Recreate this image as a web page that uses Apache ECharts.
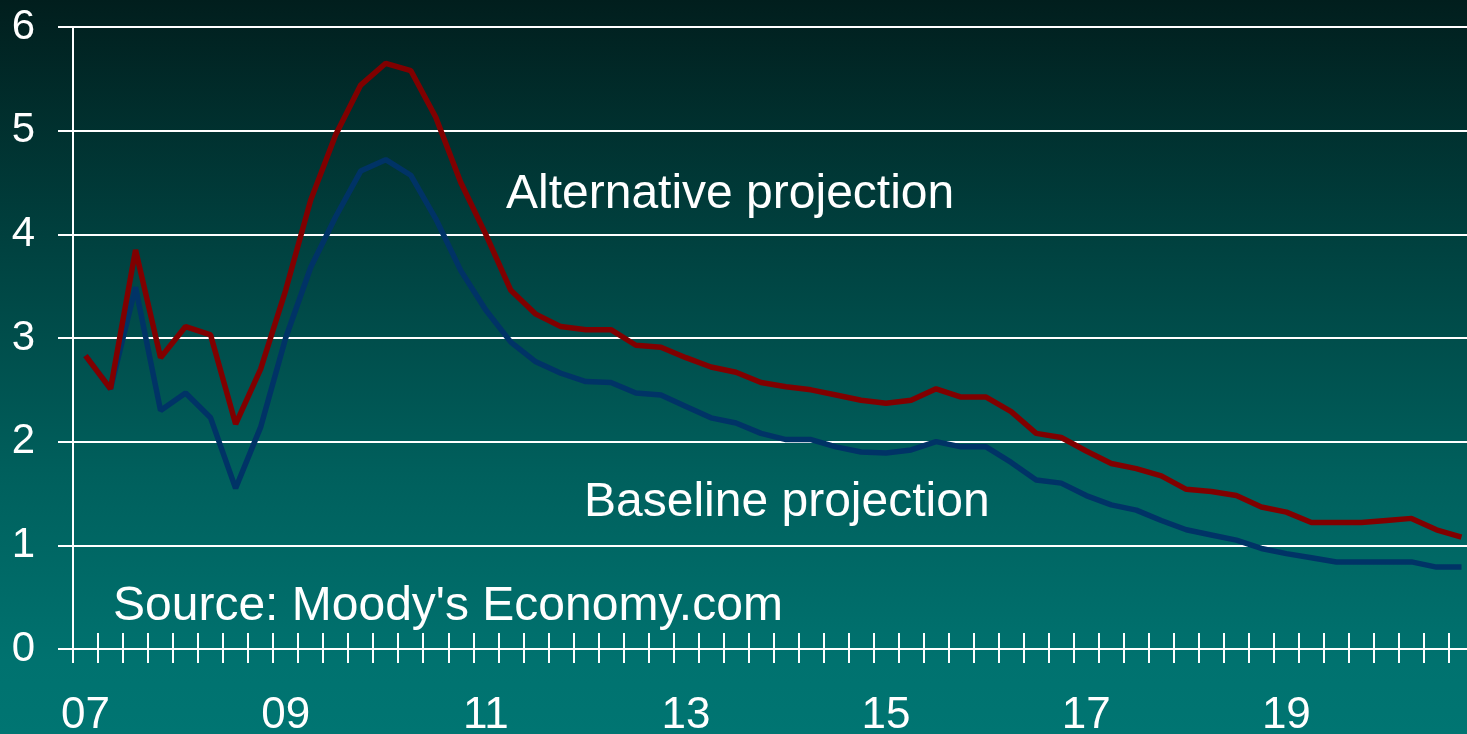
<!DOCTYPE html>
<html>
<head>
<meta charset="utf-8">
<title>Baseline vs alternative projection</title>
<script src="https://cdn.jsdelivr.net/npm/echarts@6/dist/echarts.min.js"></script>
<style>
    html, body {margin: 0; padding: 0; overflow: hidden;}
    #main {width: 1467px; height: 734px;}
</style>
</head>
<body>
<div id="main"></div>
<script>
// quarters 2007Q1 .. 2020Q4
var quarters = [
    '07Q1', '07Q2', '07Q3', '07Q4', '08Q1', '08Q2', '08Q3', '08Q4',
    '09Q1', '09Q2', '09Q3', '09Q4', '10Q1', '10Q2', '10Q3', '10Q4',
    '11Q1', '11Q2', '11Q3', '11Q4', '12Q1', '12Q2', '12Q3', '12Q4',
    '13Q1', '13Q2', '13Q3', '13Q4', '14Q1', '14Q2', '14Q3', '14Q4',
    '15Q1', '15Q2', '15Q3', '15Q4', '16Q1', '16Q2', '16Q3', '16Q4',
    '17Q1', '17Q2', '17Q3', '17Q4', '18Q1', '18Q2', '18Q3', '18Q4',
    '19Q1', '19Q2', '19Q3', '19Q4', '20Q1', '20Q2', '20Q3', '20Q4'
];

var baseline = [
    2.83, 2.51, 3.49, 2.30, 2.47, 2.23, 1.55, 2.14,
    3.00, 3.68, 4.17, 4.61, 4.72, 4.57, 4.15, 3.65,
    3.27, 2.96, 2.77, 2.66, 2.58, 2.57, 2.47, 2.45,
    2.34, 2.23, 2.18, 2.08, 2.02, 2.02, 1.95, 1.90,
    1.89, 1.92, 2.00, 1.95, 1.95, 1.80, 1.63, 1.60,
    1.48, 1.39, 1.34, 1.24, 1.15, 1.10, 1.05, 0.97,
    0.92, 0.88, 0.84, 0.84, 0.84, 0.84, 0.79, 0.79
];

var alternative = [
    2.83, 2.51, 3.85, 2.81, 3.11, 3.03, 2.17, 2.70,
    3.46, 4.33, 4.96, 5.44, 5.65, 5.58, 5.13, 4.50,
    4.00, 3.46, 3.23, 3.11, 3.08, 3.08, 2.93, 2.91,
    2.81, 2.72, 2.67, 2.57, 2.53, 2.50, 2.45, 2.40,
    2.37, 2.40, 2.51, 2.43, 2.43, 2.29, 2.08, 2.04,
    1.91, 1.79, 1.74, 1.67, 1.54, 1.52, 1.48, 1.37,
    1.32, 1.22, 1.22, 1.22, 1.24, 1.26, 1.15, 1.08
];

var font = 'Liberation Sans, Arial, sans-serif';

var dom = document.getElementById('main');
var myChart = echarts.init(dom);

var option = {
    animation: false,
    backgroundColor: new echarts.graphic.LinearGradient(0, 0, 0, 1, [
        {offset: 0, color: '#011e1d'},
        {offset: 0.35, color: '#004341'},
        {offset: 0.65, color: '#00605d'},
        {offset: 0.9, color: '#00726f'},
        {offset: 1, color: '#007572'}
    ]),
    // plot runs a bit past the right edge of the canvas, like the original
    grid: {left: 73, top: 27, height: 622, width: 1401, outerBoundsMode: 'none'},
    xAxis: [
        {
            type: 'category',
            data: quarters,
            boundaryGap: true,
            axisLine: {lineStyle: {color: '#fff', width: 2}},
            axisTick: {show: true, interval: 0, length: 14, lineStyle: {color: '#fff', width: 2}},
            axisLabel: {
                interval: 7,
                margin: 45,
                color: '#fff',
                fontSize: 44,
                fontFamily: font,
                formatter: function (v) {
                    return v.slice(0, 2);
                }
            },
            splitLine: {show: false}
        },
        {
            // second copy only for the inner half of the crossing ticks
            type: 'category',
            data: quarters,
            position: 'bottom',
            boundaryGap: true,
            axisLine: {show: false},
            axisTick: {show: true, inside: true, interval: 0, length: 16, lineStyle: {color: '#fff', width: 2}},
            axisLabel: {show: false},
            splitLine: {show: false}
        }
    ],
    yAxis: {
        type: 'value',
        min: 0,
        max: 6,
        interval: 1,
        axisLine: {show: true, lineStyle: {color: '#fff', width: 2}},
        axisTick: {show: true, length: 15, lineStyle: {color: '#fff', width: 2}},
        axisLabel: {color: '#fff', fontSize: 42, fontFamily: font, margin: 38},
        splitLine: {show: true, lineStyle: {color: '#fff', width: 2}}
    },
    series: [
        {
            name: 'Baseline projection',
            type: 'line',
            data: baseline,
            symbol: 'none',
            lineStyle: {color: '#003366', width: 5.5},
            itemStyle: {color: '#003366'}
        },
        {
            name: 'Alternative projection',
            type: 'line',
            data: alternative,
            symbol: 'none',
            lineStyle: {color: '#800000', width: 5.5},
            itemStyle: {color: '#800000'}
        }
    ],
    graphic: [
        {
            type: 'text', left: 506, top: 171,
            style: {text: 'Alternative projection', fill: '#fff', font: '48px ' + font}
        },
        {
            type: 'text', left: 584, top: 479,
            style: {text: 'Baseline projection', fill: '#fff', font: '48px ' + font}
        },
        {
            type: 'text', left: 113, top: 583,
            style: {text: "Source: Moody's Economy.com", fill: '#fff', font: '48px ' + font}
        }
    ]
};

if (option && typeof option === "object") {
    myChart.setOption(option, true);
}
</script>
</body>
</html>
